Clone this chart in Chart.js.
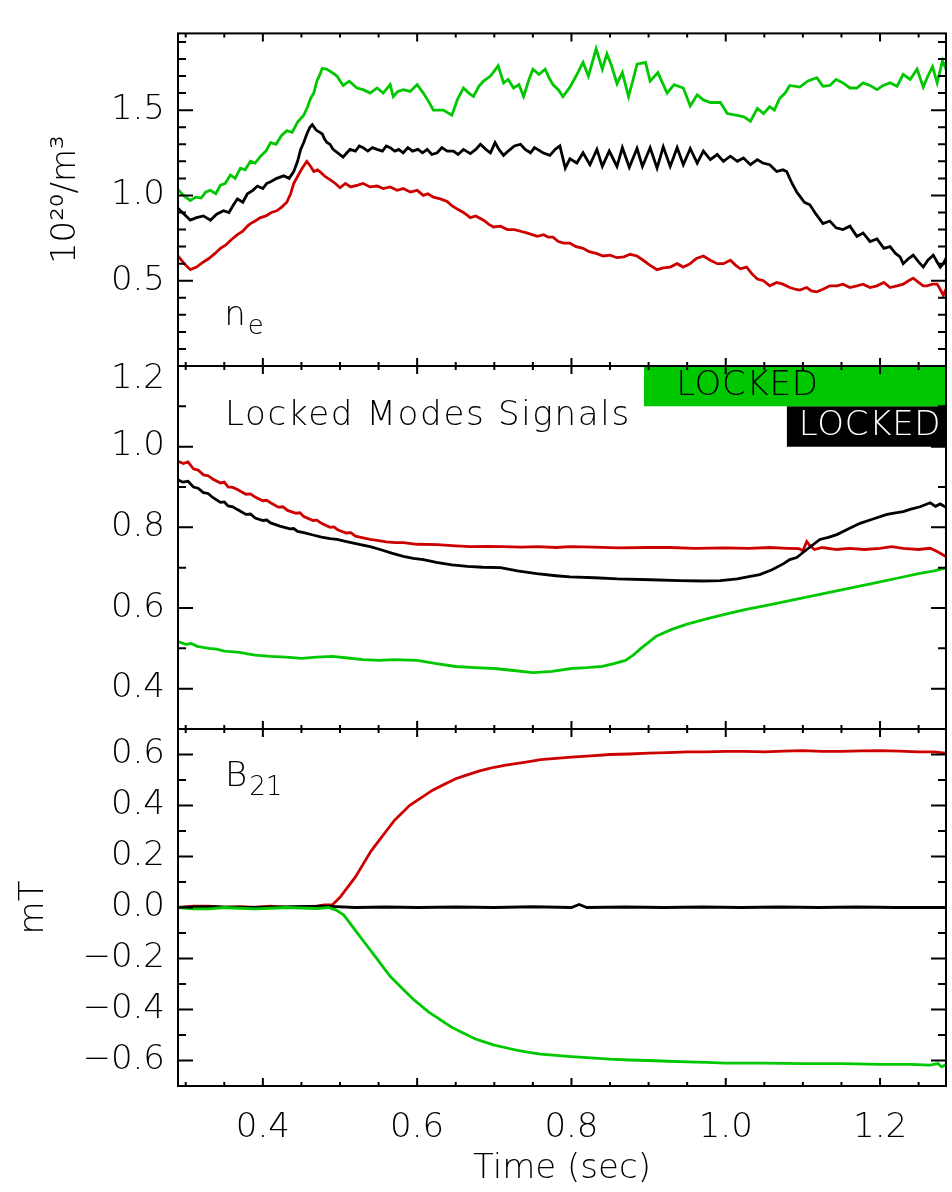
<!DOCTYPE html>
<html>
<head>
<meta charset="utf-8">
<script src="https://cdn.jsdelivr.net/npm/chart.js@4.4.1/dist/chart.umd.min.js"></script>
<style>
  html, body { margin: 0; padding: 0; background: #fff; }
  #wrap { position: relative; width: 952px; height: 1192px; }
  #wrap canvas { position: absolute; left: 0; top: 0; }
</style>
</head>
<body>
<div id="wrap">
  <canvas id="ne" width="952" height="1192"></canvas>
  <canvas id="lm" width="952" height="1192"></canvas>
  <canvas id="b21" width="952" height="1192"></canvas>
</div>
<script>
// time axis (sec)
const timeRange = [0.29, 1.2855];
const xMajorTicks = [0.4, 0.6, 0.8, 1.0, 1.2];
const xMinorTicks = [0.3, 0.35, 0.45, 0.5, 0.55, 0.65, 0.7, 0.75, 0.85, 0.9, 0.95, 1.05, 1.1, 1.15, 1.25];

// panel 1: density, 10^20/m^3  [time, value]
const neGreen = [[0.290,1.035],[0.297,1.00],[0.306,0.97],[0.313,0.99],[0.320,0.985],[0.326,1.02],[0.332,1.03],[0.339,1.01],[0.345,1.06],[0.351,1.07],[0.358,1.12],[0.364,1.10],[0.371,1.16],[0.377,1.15],[0.384,1.20],[0.390,1.19],[0.397,1.23],[0.404,1.26],[0.410,1.31],[0.417,1.30],[0.424,1.35],[0.431,1.38],[0.438,1.37],[0.445,1.43],[0.453,1.47],[0.458,1.52],[0.462,1.57],[0.466,1.60],[0.470,1.67],[0.474,1.71],[0.477,1.745],[0.483,1.74],[0.490,1.72],[0.496,1.70],[0.504,1.645],[0.512,1.67],[0.522,1.63],[0.530,1.62],[0.539,1.60],[0.548,1.63],[0.556,1.60],[0.565,1.65],[0.569,1.58],[0.575,1.61],[0.582,1.62],[0.591,1.61],[0.600,1.65],[0.608,1.60],[0.615,1.55],[0.621,1.50],[0.634,1.50],[0.645,1.47],[0.652,1.56],[0.660,1.63],[0.667,1.60],[0.673,1.58],[0.680,1.64],[0.686,1.67],[0.695,1.70],[0.705,1.76],[0.712,1.66],[0.718,1.68],[0.725,1.63],[0.732,1.65],[0.738,1.58],[0.745,1.68],[0.750,1.74],[0.758,1.71],[0.766,1.74],[0.771,1.69],[0.776,1.65],[0.783,1.62],[0.789,1.58],[0.798,1.635],[0.806,1.70],[0.815,1.78],[0.822,1.70],[0.832,1.86],[0.840,1.74],[0.846,1.83],[0.852,1.76],[0.859,1.655],[0.866,1.72],[0.874,1.58],[0.880,1.68],[0.885,1.77],[0.896,1.78],[0.902,1.67],[0.912,1.72],[0.918,1.66],[0.924,1.60],[0.933,1.65],[0.945,1.63],[0.954,1.525],[0.963,1.59],[0.971,1.56],[0.980,1.545],[0.993,1.545],[1.002,1.48],[1.015,1.47],[1.024,1.46],[1.032,1.435],[1.041,1.51],[1.049,1.48],[1.057,1.52],[1.063,1.50],[1.070,1.57],[1.077,1.60],[1.083,1.645],[1.096,1.635],[1.106,1.67],[1.118,1.69],[1.126,1.64],[1.135,1.645],[1.143,1.68],[1.152,1.66],[1.161,1.63],[1.170,1.63],[1.178,1.66],[1.187,1.645],[1.196,1.62],[1.204,1.645],[1.213,1.66],[1.222,1.64],[1.230,1.71],[1.239,1.68],[1.248,1.74],[1.256,1.635],[1.262,1.70],[1.268,1.755],[1.274,1.66],[1.281,1.79],[1.286,1.735]];
const neBlack = [[0.290,0.925],[0.298,0.89],[0.306,0.855],[0.314,0.87],[0.323,0.88],[0.332,0.855],[0.340,0.89],[0.349,0.91],[0.356,0.90],[0.362,0.945],[0.367,0.98],[0.374,0.96],[0.380,1.01],[0.387,1.03],[0.393,1.055],[0.400,1.04],[0.405,1.07],[0.410,1.08],[0.418,1.10],[0.427,1.115],[0.434,1.10],[0.440,1.14],[0.445,1.20],[0.449,1.27],[0.453,1.31],[0.457,1.36],[0.461,1.40],[0.464,1.415],[0.468,1.39],[0.470,1.38],[0.474,1.37],[0.477,1.36],[0.480,1.33],[0.483,1.31],[0.487,1.30],[0.491,1.27],[0.497,1.25],[0.504,1.225],[0.509,1.25],[0.513,1.27],[0.520,1.26],[0.525,1.29],[0.530,1.28],[0.536,1.26],[0.542,1.28],[0.548,1.27],[0.555,1.26],[0.560,1.29],[0.565,1.28],[0.571,1.26],[0.576,1.27],[0.582,1.25],[0.588,1.28],[0.594,1.26],[0.601,1.27],[0.607,1.25],[0.613,1.27],[0.619,1.24],[0.626,1.25],[0.632,1.28],[0.639,1.26],[0.647,1.26],[0.653,1.24],[0.660,1.27],[0.669,1.245],[0.676,1.27],[0.682,1.30],[0.689,1.27],[0.695,1.25],[0.701,1.31],[0.706,1.27],[0.712,1.235],[0.718,1.26],[0.726,1.29],[0.734,1.30],[0.740,1.27],[0.747,1.25],[0.752,1.28],[0.756,1.27],[0.763,1.25],[0.772,1.235],[0.779,1.27],[0.785,1.29],[0.792,1.16],[0.798,1.215],[0.807,1.19],[0.815,1.25],[0.824,1.18],[0.833,1.27],[0.840,1.17],[0.849,1.26],[0.859,1.17],[0.866,1.28],[0.875,1.165],[0.885,1.275],[0.892,1.17],[0.902,1.28],[0.911,1.16],[0.919,1.285],[0.928,1.17],[0.937,1.28],[0.945,1.18],[0.954,1.275],[0.963,1.19],[0.971,1.26],[0.980,1.21],[0.989,1.24],[0.997,1.20],[1.006,1.23],[1.015,1.20],[1.023,1.22],[1.032,1.18],[1.041,1.21],[1.048,1.19],[1.057,1.18],[1.066,1.14],[1.074,1.15],[1.079,1.14],[1.086,1.07],[1.092,1.02],[1.097,0.99],[1.102,0.96],[1.109,0.945],[1.117,0.89],[1.126,0.835],[1.135,0.85],[1.143,0.81],[1.152,0.80],[1.161,0.82],[1.170,0.76],[1.178,0.78],[1.187,0.73],[1.196,0.745],[1.205,0.69],[1.213,0.70],[1.220,0.66],[1.226,0.64],[1.230,0.60],[1.237,0.63],[1.243,0.65],[1.250,0.61],[1.256,0.58],[1.262,0.62],[1.269,0.65],[1.274,0.61],[1.278,0.58],[1.282,0.60],[1.286,0.635]];
const neRed = [[0.290,0.645],[0.298,0.60],[0.306,0.565],[0.314,0.58],[0.323,0.61],[0.330,0.63],[0.338,0.66],[0.345,0.69],[0.352,0.71],[0.359,0.74],[0.367,0.77],[0.374,0.79],[0.380,0.82],[0.384,0.835],[0.390,0.85],[0.397,0.87],[0.404,0.88],[0.411,0.90],[0.418,0.91],[0.424,0.93],[0.431,0.96],[0.436,1.01],[0.440,1.07],[0.446,1.12],[0.451,1.16],[0.457,1.20],[0.462,1.17],[0.466,1.14],[0.471,1.15],[0.475,1.135],[0.481,1.11],[0.488,1.09],[0.494,1.07],[0.500,1.045],[0.507,1.07],[0.514,1.05],[0.523,1.06],[0.530,1.07],[0.539,1.05],[0.548,1.055],[0.556,1.04],[0.565,1.05],[0.574,1.03],[0.582,1.04],[0.591,1.02],[0.600,1.03],[0.608,1.00],[0.614,1.01],[0.621,0.99],[0.630,0.98],[0.639,0.965],[0.645,0.94],[0.652,0.92],[0.660,0.90],[0.669,0.87],[0.676,0.88],[0.686,0.855],[0.693,0.83],[0.699,0.815],[0.708,0.82],[0.717,0.80],[0.726,0.80],[0.734,0.79],[0.742,0.78],[0.749,0.77],[0.756,0.76],[0.764,0.77],[0.770,0.755],[0.776,0.755],[0.783,0.73],[0.790,0.72],[0.798,0.72],[0.806,0.70],[0.815,0.69],[0.823,0.67],[0.832,0.66],[0.841,0.645],[0.850,0.65],[0.859,0.635],[0.868,0.64],[0.876,0.655],[0.885,0.645],[0.893,0.62],[0.902,0.59],[0.911,0.565],[0.919,0.575],[0.928,0.58],[0.937,0.60],[0.945,0.58],[0.954,0.60],[0.962,0.63],[0.971,0.645],[0.980,0.62],[0.989,0.60],[0.997,0.60],[1.006,0.62],[1.013,0.59],[1.019,0.57],[1.027,0.58],[1.034,0.54],[1.041,0.51],[1.049,0.50],[1.057,0.47],[1.066,0.49],[1.074,0.48],[1.083,0.46],[1.090,0.45],[1.096,0.445],[1.105,0.46],[1.111,0.44],[1.118,0.435],[1.126,0.45],[1.135,0.47],[1.144,0.47],[1.152,0.48],[1.161,0.46],[1.170,0.47],[1.178,0.48],[1.187,0.46],[1.196,0.47],[1.205,0.49],[1.213,0.46],[1.222,0.47],[1.230,0.48],[1.237,0.50],[1.243,0.515],[1.250,0.49],[1.256,0.47],[1.261,0.47],[1.268,0.48],[1.274,0.48],[1.278,0.45],[1.282,0.415],[1.286,0.455]];
const neTicks = [0.5, 1.0, 1.5];
const neMinor = [0.1, 0.2, 0.3, 0.4, 0.6, 0.7, 0.8, 0.9, 1.1, 1.2, 1.3, 1.4, 1.6, 1.7, 1.8, 1.9];

// panel 2: locked modes signals
const lmRed = [[0.290,0.964],[0.297,0.958],[0.303,0.962],[0.310,0.945],[0.316,0.942],[0.323,0.93],[0.329,0.928],[0.335,0.92],[0.345,0.91],[0.350,0.912],[0.355,0.90],[0.361,0.899],[0.367,0.894],[0.378,0.882],[0.384,0.883],[0.390,0.875],[0.400,0.866],[0.405,0.867],[0.410,0.861],[0.420,0.85],[0.426,0.851],[0.432,0.842],[0.443,0.835],[0.448,0.836],[0.453,0.827],[0.465,0.817],[0.470,0.818],[0.476,0.81],[0.487,0.80],[0.492,0.801],[0.497,0.794],[0.508,0.786],[0.514,0.787],[0.520,0.778],[0.530,0.774],[0.539,0.77],[0.550,0.767],[0.560,0.764],[0.572,0.762],[0.582,0.762],[0.600,0.758],[0.626,0.757],[0.650,0.754],[0.669,0.752],[0.690,0.753],[0.712,0.752],[0.735,0.751],[0.756,0.752],[0.780,0.750],[0.798,0.752],[0.830,0.751],[0.860,0.749],[0.900,0.750],[0.928,0.750],[0.960,0.748],[1.000,0.749],[1.030,0.748],[1.057,0.750],[1.080,0.748],[1.095,0.747],[1.100,0.742],[1.105,0.765],[1.109,0.755],[1.115,0.745],[1.125,0.75],[1.144,0.745],[1.160,0.748],[1.180,0.745],[1.200,0.748],[1.215,0.752],[1.230,0.748],[1.250,0.745],[1.265,0.748],[1.274,0.74],[1.286,0.727]];
const lmBlack = [[0.290,0.918],[0.296,0.912],[0.303,0.914],[0.310,0.90],[0.316,0.897],[0.323,0.886],[0.329,0.884],[0.335,0.874],[0.345,0.862],[0.350,0.863],[0.355,0.853],[0.361,0.851],[0.367,0.844],[0.378,0.832],[0.384,0.833],[0.390,0.823],[0.400,0.817],[0.405,0.818],[0.410,0.811],[0.422,0.803],[0.435,0.796],[0.440,0.797],[0.445,0.790],[0.453,0.787],[0.465,0.781],[0.476,0.776],[0.487,0.772],[0.496,0.770],[0.510,0.764],[0.525,0.758],[0.539,0.752],[0.552,0.745],[0.567,0.736],[0.582,0.728],[0.595,0.723],[0.608,0.72],[0.625,0.713],[0.645,0.707],[0.665,0.703],[0.685,0.701],[0.708,0.70],[0.730,0.692],[0.755,0.685],[0.780,0.680],[0.798,0.677],[0.830,0.675],[0.860,0.672],[0.902,0.670],[0.940,0.668],[0.970,0.667],[0.993,0.668],[1.015,0.672],[1.030,0.678],[1.044,0.683],[1.060,0.695],[1.075,0.71],[1.083,0.72],[1.092,0.725],[1.105,0.745],[1.122,0.77],[1.133,0.775],[1.144,0.782],[1.158,0.795],[1.174,0.81],[1.190,0.82],[1.209,0.832],[1.220,0.836],[1.230,0.839],[1.240,0.845],[1.252,0.851],[1.265,0.861],[1.272,0.852],[1.278,0.858],[1.286,0.849]];
const lmGreen = [[0.290,0.517],[0.300,0.51],[0.307,0.512],[0.315,0.505],[0.330,0.50],[0.340,0.498],[0.350,0.493],[0.370,0.49],[0.380,0.486],[0.390,0.483],[0.410,0.48],[0.430,0.478],[0.450,0.475],[0.470,0.478],[0.490,0.48],[0.510,0.476],[0.530,0.472],[0.550,0.47],[0.570,0.472],[0.600,0.47],[0.625,0.462],[0.650,0.455],[0.675,0.452],[0.700,0.45],[0.725,0.445],[0.750,0.44],[0.775,0.443],[0.800,0.45],[0.820,0.452],[0.840,0.455],[0.855,0.462],[0.870,0.47],[0.880,0.483],[0.890,0.50],[0.900,0.515],[0.910,0.53],[0.930,0.547],[0.950,0.56],[0.975,0.573],[1.000,0.585],[1.025,0.596],[1.050,0.605],[1.075,0.615],[1.100,0.625],[1.125,0.635],[1.150,0.645],[1.175,0.655],[1.200,0.665],[1.225,0.675],[1.250,0.685],[1.270,0.692],[1.286,0.70]];
const lmTicks = [0.4, 0.6, 0.8, 1.0, 1.2];
const lmMinor = [0.5, 0.7, 0.9, 1.1];

// locked intervals: [start, end, bottom, top]
const lockedGreen = [0.894, 1.2855, 1.1, 1.2];
const lockedBlack = [1.079, 1.2855, 1.0, 1.1];

// panel 3: B21, mT
const bRed = [[0.290,0.0],[0.310,0.005],[0.330,0.005],[0.350,0.0],[0.370,0.003],[0.390,0.0],[0.410,0.005],[0.430,0.0],[0.450,0.002],[0.470,0.005],[0.480,0.01],[0.490,0.01],[0.500,0.04],[0.510,0.08],[0.520,0.12],[0.530,0.17],[0.540,0.22],[0.550,0.26],[0.560,0.30],[0.570,0.34],[0.580,0.37],[0.590,0.40],[0.600,0.42],[0.610,0.44],[0.620,0.46],[0.630,0.475],[0.640,0.49],[0.650,0.505],[0.660,0.515],[0.670,0.525],[0.680,0.535],[0.690,0.543],[0.700,0.55],[0.715,0.558],[0.730,0.565],[0.745,0.572],[0.760,0.58],[0.780,0.585],[0.800,0.59],[0.825,0.595],[0.850,0.60],[0.875,0.602],[0.900,0.605],[0.925,0.607],[0.950,0.61],[0.975,0.61],[1.000,0.612],[1.025,0.612],[1.050,0.61],[1.075,0.613],[1.100,0.615],[1.125,0.612],[1.150,0.612],[1.175,0.614],[1.200,0.615],[1.225,0.613],[1.250,0.61],[1.270,0.61],[1.286,0.605]];
const bGreen = [[0.290,0.0],[0.310,-0.005],[0.330,-0.005],[0.350,0.0],[0.370,-0.003],[0.390,-0.005],[0.410,-0.003],[0.430,0.0],[0.450,-0.002],[0.470,-0.004],[0.485,0.0],[0.495,-0.01],[0.505,-0.03],[0.515,-0.07],[0.525,-0.11],[0.535,-0.15],[0.545,-0.19],[0.555,-0.23],[0.565,-0.27],[0.575,-0.30],[0.585,-0.33],[0.595,-0.36],[0.605,-0.385],[0.615,-0.41],[0.625,-0.43],[0.635,-0.45],[0.645,-0.47],[0.655,-0.485],[0.665,-0.50],[0.675,-0.515],[0.685,-0.525],[0.700,-0.54],[0.715,-0.55],[0.730,-0.56],[0.745,-0.568],[0.760,-0.575],[0.780,-0.58],[0.800,-0.585],[0.825,-0.59],[0.850,-0.595],[0.875,-0.598],[0.900,-0.60],[0.925,-0.603],[0.950,-0.605],[0.975,-0.607],[1.000,-0.61],[1.050,-0.61],[1.100,-0.612],[1.150,-0.612],[1.200,-0.615],[1.240,-0.615],[1.265,-0.618],[1.275,-0.612],[1.280,-0.625],[1.286,-0.615]];
const bBlack = [[0.290,0.0],[0.330,0.003],[0.380,0.0],[0.420,0.002],[0.480,0.005],[0.520,0.0],[0.560,0.002],[0.600,0.0],[0.650,0.002],[0.700,0.0],[0.750,0.003],[0.800,0.0],[0.810,0.012],[0.820,0.0],[0.870,0.002],[0.920,0.0],[0.970,0.002],[1.020,0.0],[1.070,0.002],[1.120,0.0],[1.170,0.002],[1.220,0.0],[1.286,0.0]];
const bTicks = [-0.6, -0.4, -0.2, 0.0, 0.2, 0.4, 0.6];
const bMinor = [-0.5, -0.3, -0.1, 0.1, 0.3, 0.5];

const GREEN = 'rgb(0,200,0)';
const RED = 'rgb(205,0,0)';
const BLACK = '#000';
const FONT = 'DejaVu Sans';
const FWEIGHT = 200;
const FSIZE = 34;

Chart.defaults.font.family = FONT;
Chart.defaults.color = '#000';

function line(pairs, color) {
    return {
        data: pairs.map(function (p) { return { x: p[0], y: p[1] }; }),
        borderColor: color,
        borderWidth: 2.8,
        pointRadius: 0,
        fill: false
    };
}

function band(spec, color) {
    return {
        data: [{ x: spec[0], y: spec[3] }, { x: spec[1], y: spec[3] }],
        borderWidth: 0,
        borderColor: 'rgba(0,0,0,0)',
        backgroundColor: color,
        pointRadius: 0,
        fill: { value: spec[2] }
    };
}

function fmt(v) {
    return v.toFixed(1).replace('-', '\u2212');
}

// IDL style box with inward ticks plus text labels
const idlFrame = {
    id: 'idlFrame',
    afterDraw(chart, args, opts) {
        const ctx = chart.ctx;
        const a = chart.chartArea;
        const xs = chart.scales.x;
        const ys = chart.scales.y;
        ctx.save();
        ctx.strokeStyle = '#000';
        ctx.lineWidth = 2;
        ctx.beginPath();
        xMajorTicks.concat(xMinorTicks).forEach(function (t) {
            const px = xs.getPixelForValue(t);
            const len = xMajorTicks.includes(t) ? 8 : 4;
            ctx.moveTo(px, a.bottom); ctx.lineTo(px, a.bottom - len);
            ctx.moveTo(px, a.top); ctx.lineTo(px, a.top + len);
        });
        opts.yMajor.concat(opts.yMinor).forEach(function (v) {
            const py = ys.getPixelForValue(v);
            const len = opts.yMajor.includes(v) ? 15 : 8;
            ctx.moveTo(a.left, py); ctx.lineTo(a.left + len, py);
            ctx.moveTo(a.right, py); ctx.lineTo(a.right - len, py);
        });
        ctx.stroke();
        ctx.strokeRect(a.left, a.top, a.right - a.left, a.bottom - a.top);

        ctx.textBaseline = 'middle';
        // tick label sitting on the top edge is drawn a little lower, as in the original
        if (opts.edgeTick !== undefined) {
            ctx.fillStyle = '#000';
            ctx.textAlign = 'right';
            ctx.font = FWEIGHT + ' ' + FSIZE + 'px ' + FONT;
            ctx.fillText(fmt(opts.edgeTick), a.left - 13, ys.getPixelForValue(opts.edgeTick) + 13);
        }
        (opts.labels || []).forEach(function (l) {
            const px = xs.getPixelForValue(l.x);
            const py = ys.getPixelForValue(l.y);
            ctx.fillStyle = l.color || '#000';
            ctx.textAlign = l.align || 'left';
            ctx.letterSpacing = (l.spacing || 0) + 'px';
            ctx.font = FWEIGHT + ' ' + FSIZE + 'px ' + FONT;
            ctx.fillText(l.text, px, py);
            if (l.sub) {
                const w = ctx.measureText(l.text).width;
                ctx.font = FWEIGHT + ' ' + Math.round(FSIZE * 0.75) + 'px ' + FONT;
                ctx.textAlign = 'left';
                ctx.fillText(l.sub, px + w + 2, py + 11);
            }
            ctx.letterSpacing = '0px';
        });
        ctx.restore();
    }
};

function panel(id, cfg) {
    const tickFont = { size: FSIZE, weight: FWEIGHT };
    new Chart(document.getElementById(id), {
        type: 'line',
        data: { datasets: cfg.datasets },
        options: {
            responsive: false,
            animation: false,
            devicePixelRatio: 1,
            layout: { padding: { left: 0, right: 6, top: cfg.top, bottom: cfg.bottom } },
            plugins: {
                legend: { display: false },
                tooltip: { enabled: false },
                idlFrame: { yMajor: cfg.yTicks, yMinor: cfg.yMinor, labels: cfg.labels, edgeTick: cfg.edgeTick }
            },
            scales: {
                x: {
                    type: 'linear',
                    min: timeRange[0],
                    max: timeRange[1],
                    display: cfg.showX,
                    afterFit: function (s) { if (cfg.showX) s.height = 106; },
                    afterBuildTicks: function (s) { s.ticks = xMajorTicks.map(function (v) { return { value: v }; }); },
                    grid: { display: false, drawTicks: false },
                    border: { display: false },
                    ticks: { padding: 22, maxRotation: 0, font: tickFont, callback: fmt },
                    title: { display: cfg.showX, text: 'Time (sec)', font: tickFont, padding: { top: 0, bottom: 2 } }
                },
                y: {
                    type: 'linear',
                    min: cfg.yRange[0],
                    max: cfg.yRange[1],
                    afterFit: function (s) { s.width = 178; },
                    afterBuildTicks: function (s) {
                        s.ticks = cfg.yTicks.filter(function (v) { return v !== cfg.edgeTick; })
                            .map(function (v) { return { value: v }; });
                    },
                    grid: { display: false, drawTicks: false },
                    border: { display: false },
                    ticks: { padding: 13, font: tickFont, callback: fmt },
                    title: { display: !!cfg.yTitle, text: cfg.yTitle, font: tickFont, padding: { top: cfg.yTitlePad, bottom: 0 } }
                }
            }
        },
        plugins: [idlFrame]
    });
}

panel('ne', {
    top: 9, bottom: 1192 - 366, showX: false,
    yRange: [0, 1.95], yTicks: neTicks, yMinor: neMinor,
    yTitle: '10\u00B2\u2070/m\u00B3', yTitlePad: 46,
    datasets: [line(neGreen, GREEN), line(neBlack, BLACK), line(neRed, RED)],
    labels: [{ text: 'n', sub: 'e', x: 0.35, y: 0.29 }]
});

panel('lm', {
    top: 366, bottom: 1192 - 729, showX: false,
    yRange: [0.3, 1.2], yTicks: lmTicks, yMinor: lmMinor, edgeTick: 1.2,
    yTitle: '', yTitlePad: 0,
    datasets: [band(lockedGreen, GREEN), band(lockedBlack, BLACK),
        line(lmGreen, GREEN), line(lmBlack, BLACK), line(lmRed, RED)],
    labels: [
        { text: 'Locked Modes Signals', x: 0.351, y: 1.075, spacing: 1.7 },
        { text: 'LOCKED', x: 1.028, y: 1.15, align: 'center', spacing: 0.7 },
        { text: 'LOCKED', x: 1.187, y: 1.05, align: 'center', spacing: 0.7, color: '#fff' }
    ]
});

panel('b21', {
    top: 729, bottom: 0, showX: true,
    yRange: [-0.7, 0.7], yTicks: bTicks, yMinor: bMinor,
    yTitle: 'mT', yTitlePad: 14,
    datasets: [line(bGreen, GREEN), line(bBlack, BLACK), line(bRed, RED)],
    labels: [{ text: 'B', sub: '21', x: 0.351, y: 0.51 }]
});
</script>
</body>
</html>
